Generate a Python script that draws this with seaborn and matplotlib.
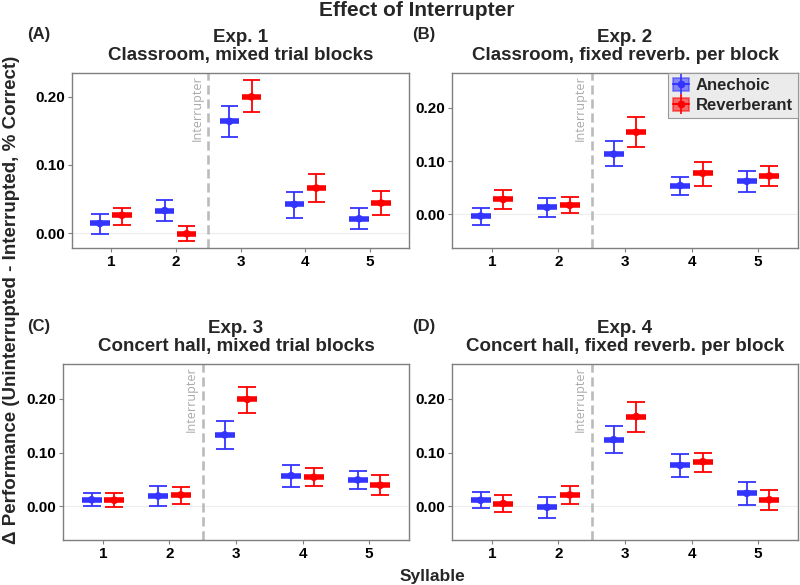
import numpy as np
import pandas as pd
import matplotlib
matplotlib.use("Agg")
import matplotlib.pyplot as plt
import seaborn as sns
from matplotlib.patches import Patch
from matplotlib.lines import Line2D
from matplotlib.legend_handler import HandlerTuple

syllables = [1, 2, 3, 4, 5]
conditions = ["Anechoic", "Reverberant"]
panel_labels = ["(A)", "(B)", "(C)", "(D)"]
panel_titles = ["Exp. 1\nClassroom, mixed trial blocks",
                "Exp. 2\nClassroom, fixed reverb. per block",
                "Exp. 3\nConcert hall, mixed trial blocks",
                "Exp. 4\nConcert hall, fixed reverb. per block"]

# Exp. 1
e1_an_mean = [0.014, 0.033, 0.164, 0.042, 0.021]
e1_an_lo   = [-0.002, 0.018, 0.141, 0.022, 0.006]
e1_an_hi   = [0.028, 0.049, 0.187, 0.060, 0.037]
e1_rv_mean = [0.026, -0.001, 0.200, 0.066, 0.044]
e1_rv_lo   = [0.012, -0.011, 0.177, 0.046, 0.026]
e1_rv_hi   = [0.037, 0.010, 0.224, 0.086, 0.061]
# Exp. 2
e2_an_mean = [-0.003, 0.013, 0.113, 0.054, 0.062]
e2_an_lo   = [-0.019, -0.004, 0.090, 0.037, 0.042]
e2_an_hi   = [0.012, 0.030, 0.137, 0.071, 0.082]
e2_rv_mean = [0.028, 0.017, 0.154, 0.077, 0.072]
e2_rv_lo   = [0.010, 0.002, 0.126, 0.054, 0.054]
e2_rv_hi   = [0.045, 0.032, 0.183, 0.098, 0.091]
# Exp. 3
e3_an_mean = [0.012, 0.019, 0.133, 0.057, 0.049]
e3_an_lo   = [0.000, 0.000, 0.107, 0.036, 0.032]
e3_an_hi   = [0.025, 0.038, 0.159, 0.076, 0.066]
e3_rv_mean = [0.011, 0.021, 0.199, 0.054, 0.039]
e3_rv_lo   = [-0.002, 0.004, 0.174, 0.037, 0.020]
e3_rv_hi   = [0.024, 0.036, 0.222, 0.071, 0.058]
# Exp. 4
e4_an_mean = [0.011, -0.002, 0.124, 0.076, 0.024]
e4_an_lo   = [-0.004, -0.022, 0.099, 0.055, 0.002]
e4_an_hi   = [0.026, 0.018, 0.149, 0.097, 0.046]
e4_rv_mean = [0.005, 0.021, 0.167, 0.083, 0.012]
e4_rv_lo   = [-0.011, 0.004, 0.139, 0.064, -0.007]
e4_rv_hi   = [0.021, 0.038, 0.195, 0.100, 0.031]

yticks = [0.00, 0.10, 0.20]
ytick_labels = ["0.00", "0.10", "0.20"]

experiments = [
    (e1_an_mean, e1_an_lo, e1_an_hi, e1_rv_mean, e1_rv_lo, e1_rv_hi),
    (e2_an_mean, e2_an_lo, e2_an_hi, e2_rv_mean, e2_rv_lo, e2_rv_hi),
    (e3_an_mean, e3_an_lo, e3_an_hi, e3_rv_mean, e3_rv_lo, e3_rv_hi),
    (e4_an_mean, e4_an_lo, e4_an_hi, e4_rv_mean, e4_rv_lo, e4_rv_hi),
]

rows = []
for i, (am, al, ah, rm, rl, rh) in enumerate(experiments):
    for j, s in enumerate(syllables):
        rows.append(dict(exp=i, syllable=s, cond="Anechoic", mean=am[j], lo=al[j], hi=ah[j]))
        rows.append(dict(exp=i, syllable=s, cond="Reverberant", mean=rm[j], lo=rl[j], hi=rh[j]))
df = pd.DataFrame(rows)

sns.set_theme(style="white")
plt.rcParams['font.family'] = ['Liberation Sans', 'DejaVu Sans']

palette = {"Anechoic": "#3434FF", "Reverberant": "#FF0000"}
offsets = {"Anechoic": -0.17, "Reverberant": 0.17}
df["xpos"] = df["syllable"] + df["cond"].map(offsets)

W, H = 800, 585
fig = plt.figure(figsize=(8, 5.85), dpi=100)

# pixel boxes: left, top, right, bottom
boxes = [(72, 73, 409, 248), (452, 73, 798, 248), (63, 364, 409, 540), (452, 364, 798, 540)]
ylims = [(-0.022, 0.235), (-0.063, 0.265), (-0.063, 0.265), (-0.063, 0.265)]

cap_half = 0.135
bar_half = 0.15
for i, (l, t, r, b) in enumerate(boxes):
    ax = fig.add_axes([l / W, 1 - b / H, (r - l) / W, (b - t) / H])
    sub = df[df["exp"] == i]
    ax.axhline(0, color="#EDEDED", lw=0.8, zorder=0)
    for cond in conditions:
        c = sub[sub["cond"] == cond]
        col = palette[cond]
        ax.vlines(c["xpos"], c["lo"], c["hi"], color=col, lw=1.3, zorder=2)
        ax.hlines(c["lo"], c["xpos"] - cap_half, c["xpos"] + cap_half, color=col, lw=1.3, zorder=2)
        ax.hlines(c["hi"], c["xpos"] - cap_half, c["xpos"] + cap_half, color=col, lw=1.3, zorder=2)
        ax.hlines(c["mean"], c["xpos"] - bar_half, c["xpos"] + bar_half, color=col, lw=4, zorder=3)
    sns.scatterplot(data=sub, x="xpos", y="mean", hue="cond", palette=palette,
                    s=30, edgecolor="none", legend=False, ax=ax, zorder=4)
    ax.axvline(2.5, color="#BBBBBB", lw=1.9, dashes=(3.5, 1.8), zorder=1)
    ax.text(2.43, ylims[i][1] - 0.004, "Interrupter", rotation=90, ha="right", va="top",
            color="#AAAAAA", fontsize=9, family=["Open Sans", "DejaVu Sans"])
    ax.set_xlim(0.4, 5.6)
    ax.set_ylim(*ylims[i])
    ax.set_xticks(syllables)
    ax.set_xticklabels([str(s) for s in syllables], fontsize=11, fontweight="bold")
    ax.set_yticks(yticks)
    ax.set_yticklabels(ytick_labels, fontsize=11, fontweight="bold")
    ax.set_xlabel("")
    ax.set_ylabel("")
    ax.tick_params(axis="both", which="both", length=3, width=0.8, color="#7F7F7F",
                   bottom=True, left=True, pad=2, labelcolor="black")
    for sp in ax.spines.values():
        sp.set_color("#7F7F7F")
        sp.set_linewidth(1.0)
    cx = (l + r) / 2 / W
    fig.text(cx, 1 - (t - 9) / H, panel_titles[i], ha="center", va="bottom",
             fontsize=13.5, fontweight="bold", linespacing=1.1)
    lx = 27 if i in (0, 2) else 412
    fig.text(lx / W, 1 - (t - 38) / H, panel_labels[i], ha="left", va="center",
             fontsize=12, fontweight="bold")
    if i == 1:
        handles = []
        for cond in conditions:
            col = palette[cond]
            handles.append((Patch(facecolor=col, alpha=0.55, edgecolor=col, lw=1.2),
                            Line2D([], [], color=col, marker="o", markersize=4.5, lw=1.5),
                            Line2D([], [], color=col, marker="|", markersize=15,
                                   markeredgewidth=1.2, linestyle="")))
        leg = ax.legend(handles, conditions, handler_map={tuple: HandlerTuple(ndivide=1, pad=0)},
                        loc="upper right", bbox_to_anchor=(1.0, 1.0), frameon=True,
                        fancybox=False, handlelength=1.0, handleheight=0.8, handletextpad=0.4,
                        borderpad=0.3, labelspacing=0.3, borderaxespad=0.0,
                        prop=dict(size=12, weight="bold"))
        leg.get_frame().set_facecolor("#EBEBEB")
        leg.get_frame().set_edgecolor("#999999")
        leg.get_frame().set_linewidth(0.8)
        leg.get_frame().set_alpha(1)

fig.text(417 / W, 1 - 11 / H, "Effect of Interrupter", ha="center", va="center",
         fontsize=15, fontweight="bold")
fig.text(432 / W, 1 - 576 / H, "Syllable", ha="center", va="center",
         fontsize=12.5, fontweight="bold")
fig.text(12 / W, 1 - 300 / H, "Δ Performance (Uninterrupted - Interrupted, % Correct)",
         ha="center", va="center", rotation=90, fontsize=13.5, fontweight="bold")

fig.savefig("out.png", dpi=100, facecolor="white")
